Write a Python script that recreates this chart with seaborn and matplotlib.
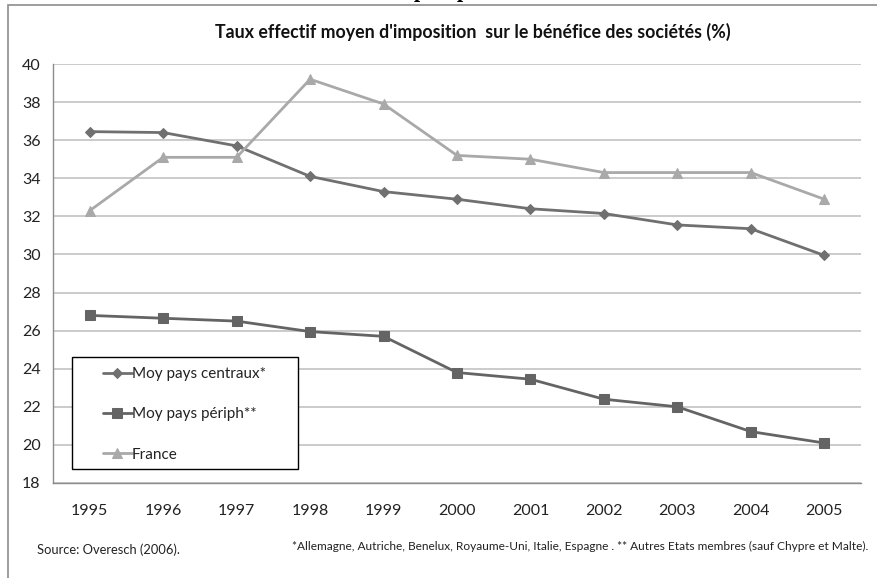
import matplotlib
matplotlib.use("Agg")
import matplotlib.pyplot as plt
from matplotlib.patches import Rectangle
from matplotlib.ticker import FixedLocator, NullFormatter
import numpy as np
import pandas as pd
import seaborn as sns

years = [1995, 1996, 1997, 1998, 1999, 2000, 2001, 2002, 2003, 2004, 2005]
centraux = [36.45, 36.4, 35.7, 34.1, 33.3, 32.9, 32.4, 32.15, 31.55, 31.35, 29.95]
peripheriques = [26.8, 26.65, 26.5, 25.95, 25.7, 23.8, 23.45, 22.4, 22.0, 20.7, 20.1]
france = [32.3, 35.1, 35.1, 39.2, 37.9, 35.2, 35.0, 34.3, 34.3, 34.3, 32.9]

series_names = ["Moy pays centraux*", "Moy pays périph**", "France"]
title = "Taux effectif moyen d'imposition  sur le bénéfice des sociétés (%)"
source_note = "Source: Overesch (2006)."
country_note = ("*Allemagne, Autriche, Benelux, Royaume-Uni, Italie, Espagne . "
                "** Autres Etats membres (sauf Chypre et Malte).")

df = pd.DataFrame({"annee": years,
                   series_names[0]: centraux,
                   series_names[1]: peripheriques,
                   series_names[2]: france})

sns.set_theme(style="white")
plt.rcParams["font.family"] = ["Lato", "DejaVu Sans"]

W, H = 877, 578
fig = plt.figure(figsize=(W / 100, H / 100), dpi=100)
ax = fig.add_axes([53 / W, 1 - 483 / H, (861 - 53) / W, (483 - 64) / H])

styles = {
    series_names[0]: dict(color="#707070", marker="D", markersize=5.0, lw=2.0),
    series_names[1]: dict(color="#646464", marker="s", markersize=7.5, lw=2.0),
    series_names[2]: dict(color="#A9A9A9", marker="^", markersize=7.5, lw=2.0),
}
for name in series_names:
    st = styles[name]
    sns.lineplot(data=df, x="annee", y=name, ax=ax, color=st["color"],
                 marker=st["marker"], markersize=st["markersize"],
                 markeredgecolor=st["color"], markerfacecolor=st["color"],
                 linewidth=st["lw"], label=name, zorder=3, legend=False)

ax.set_xlim(years[0] - 0.5, years[-1] + 0.5)
ax.set_ylim(18, 40)
ax.set_yticks(np.arange(18, 41, 2))
ax.yaxis.grid(True, color="#BDBDBD", lw=1.1)
ax.set_axisbelow(True)

# category boundaries carry the tick marks, years sit between them
ax.xaxis.set_major_locator(FixedLocator(np.arange(years[0] - 0.5, years[-1] + 1, 1)))
ax.xaxis.set_major_formatter(NullFormatter())
ax.set_xticks(years, [str(y) for y in years], minor=True)
ax.tick_params(axis="x", which="major", length=5, width=1, color="#8C8C8C", direction="out")
ax.tick_params(axis="x", which="minor", length=0, pad=15, labelsize=11.5, labelcolor="#222222")
ax.tick_params(axis="y", length=5, width=1, color="#8C8C8C", direction="out",
               pad=4, labelsize=11.5, labelcolor="#222222")
ax.set_xlabel("")
ax.set_ylabel("")

for side in ["top", "right"]:
    ax.spines[side].set_visible(False)
for side in ["left", "bottom"]:
    ax.spines[side].set_color("#8C8C8C")
    ax.spines[side].set_linewidth(1)

# legend box
x0, x1 = (72 - 53) / 808, (298 - 53) / 808
y0, y1 = (483 - 469) / 419, (483 - 357) / 419
ax.add_patch(Rectangle((x0, y0), x1 - x0, y1 - y0, transform=ax.transAxes,
                       facecolor="white", edgecolor="black", lw=1.0, zorder=4))
handles, labels = ax.get_legend_handles_labels()
leg = ax.legend(handles, labels, loc="upper left",
                bbox_to_anchor=((103 - 53) / 808 - 0.004, (483 - 364) / 419),
                frameon=False, fontsize=11, handlelength=1.9, handletextpad=0.0,
                labelspacing=1.72, borderpad=0.2, borderaxespad=0.0)
leg.set_zorder(5)
for t in leg.get_texts():
    t.set_color("#222222")

fig.text(473 / W, 1 - 32 / H, title, ha="center", va="center",
         fontsize=12.8, fontweight="bold", color="#111111")

fig.text(37 / W, 1 - 550 / H, source_note, ha="left", va="center",
         fontsize=9.3, color="#222222")
fig.text(292 / W, 1 - 546 / H, country_note, ha="left", va="center",
         fontsize=8.6, color="#222222")

# outer frame of the chart
fig.add_artist(Rectangle((8 / W, -0.05), 1.0, 1 - 5 / H + 0.05, transform=fig.transFigure,
                         facecolor="none", edgecolor="#8C8C8C", lw=1.2))

# descenders of a heading that runs past the top edge
for xp in (420, 463):
    fig.text(xp / W, 1 + 3 / H, "p", ha="center", va="baseline",
             fontsize=16, fontweight="bold", family="Liberation Serif", color="black")

fig.savefig("out.png", dpi=100, facecolor="white")
